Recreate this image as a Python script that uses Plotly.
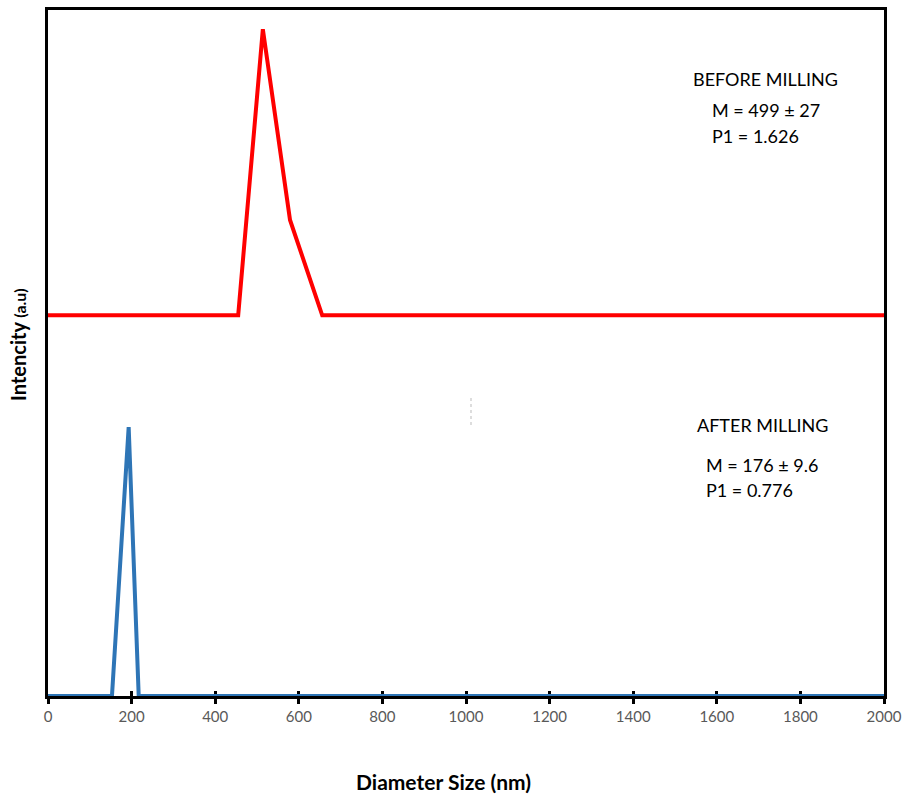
import plotly.graph_objects as go

# data
before_x = [0, 455, 514, 579, 656, 2000]
before_y = [55.5, 55.5, 97.2, 69.4, 55.5, 55.5]
after_x = [0, 153, 193, 217, 2000]
after_y = [0, 0, 39.2, 0, 0]
tick_vals = [0, 200, 400, 600, 800, 1000, 1200, 1400, 1600, 1800, 2000]
tick_text = [str(v) for v in tick_vals]

W, H = 903, 795
L, R, T, B = 48, 884, 10, 696  # plot area in page pixels

def px(x):
    return (x - L) / (R - L)

def py(y):
    return (B - y) / (B - T)

FONT = "Lato, 'Open Sans', sans-serif"

fig = go.Figure()
fig.add_trace(go.Scatter(x=before_x, y=before_y, mode="lines",
                         line=dict(color="#FF0000", width=4), showlegend=False))
fig.add_trace(go.Scatter(x=after_x, y=after_y, mode="lines",
                         line=dict(color="#2E75B6", width=4), showlegend=False))
fig.add_trace(go.Scatter(x=[0, 2000], y=[0, 0], xaxis="x2", mode="lines",
                         line=dict(width=0), hoverinfo="skip", showlegend=False))

fig.update_layout(
    width=W, height=H,
    margin=dict(l=L, r=W - R, t=T, b=H - B, autoexpand=False),
    paper_bgcolor="white", plot_bgcolor="white",
    font=dict(family=FONT, color="#595959"),
    xaxis=dict(range=[0, 2000], tickvals=tick_vals, ticktext=tick_text,
               showgrid=False, zeroline=False, showline=True, linecolor="black",
               linewidth=3, mirror=True, ticks="outside", ticklen=5, tickwidth=3,
               tickcolor="black", tickfont=dict(size=15, color="#595959"),
               automargin=False, layer="below traces"),
    xaxis2=dict(range=[0, 2000], overlaying="x", side="bottom", anchor="y",
                tickvals=tick_vals, showticklabels=False, ticks="inside",
                ticklen=5, tickwidth=3, tickcolor="black", showgrid=False,
                zeroline=False, showline=False, automargin=False,
                layer="below traces"),
    yaxis=dict(range=[0, 100], showticklabels=False, ticks="", showgrid=False,
               zeroline=False, showline=True, linecolor="black", linewidth=3,
               mirror=True, automargin=False, layer="below traces"),
)

ann_font = dict(family=FONT, size=18, color="black")
texts = [
    ("BEFORE MILLING", 691, 79),
    ("M = 499 ± 27", 710, 110),
    ("P1 = 1.626", 710, 136),
    ("AFTER MILLING", 695, 425),
    ("M = 176 ± 9.6", 704, 465),
    ("P1 = 0.776", 704, 490),
]
for t, x, y in texts:
    fig.add_annotation(text=t, x=px(x), y=py(y), xref="paper", yref="paper",
                       xanchor="left", yanchor="middle", showarrow=False,
                       font=ann_font)

fig.add_annotation(text="<b>Diameter Size (nm)</b>", x=px(443), y=py(781),
                   xref="paper", yref="paper", xanchor="center", yanchor="middle",
                   showarrow=False, font=dict(family=FONT, size=21, color="black"))
fig.add_annotation(text="<b>Intencity <span style='font-size:16px'>(a.u)</span></b>",
                   x=px(18), y=py(345), xref="paper", yref="paper",
                   xanchor="center", yanchor="middle", textangle=-90,
                   showarrow=False, font=dict(family=FONT, size=20, color="black"))

fig.add_shape(type="line", xref="paper", yref="paper",
              x0=px(471), x1=px(471), y0=py(398), y1=py(428),
              line=dict(color="#BBBBBB", width=1, dash="dot"))

fig.write_html("out.html", config={"displayModeBar": False},
               post_script="document.body.style.margin='0';document.body.style.overflow='hidden';")
